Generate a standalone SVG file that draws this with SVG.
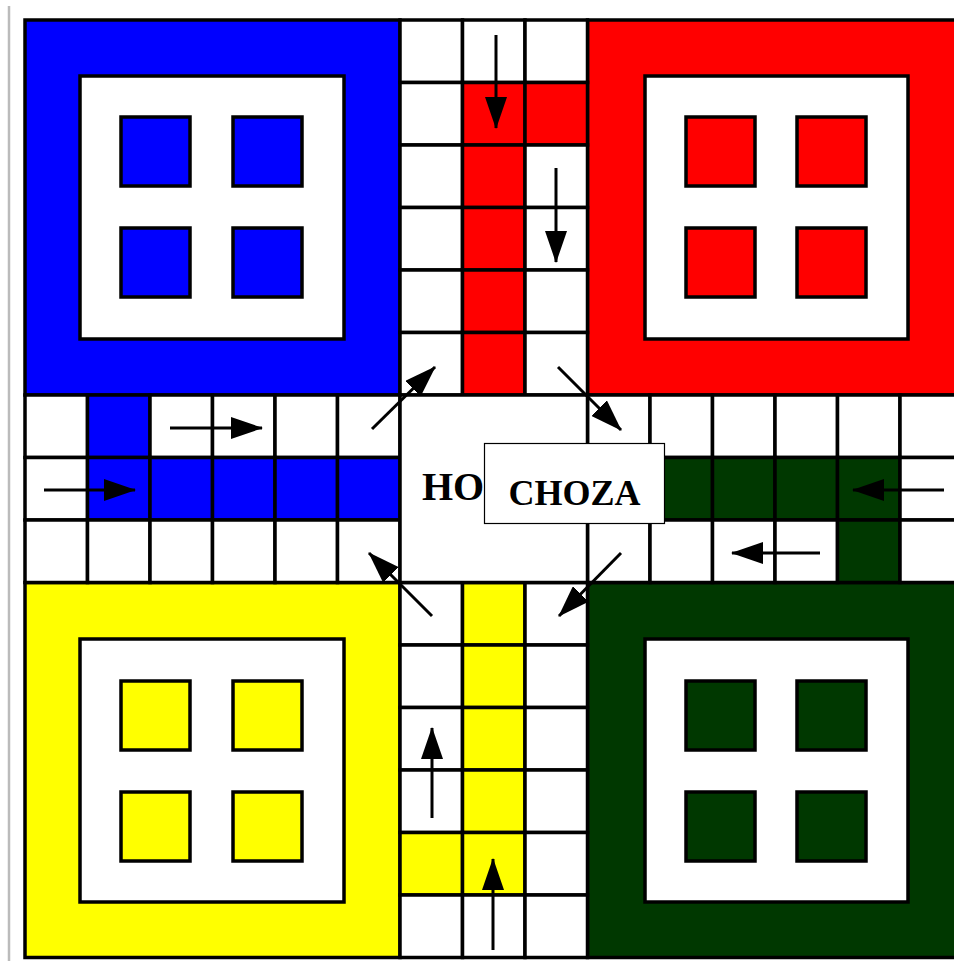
<svg xmlns="http://www.w3.org/2000/svg" width="954" height="961" viewBox="0 0 954 961">
<style>
.c{stroke:#000;stroke-width:3.5}
.w{fill:#fff}
.b{fill:#0000ff}
.r{fill:#ff0000}
.y{fill:#ffff00}
.g{fill:#003800}
.a{stroke:#000;stroke-width:3;fill:none;marker-end:url(#ah)}
.t{font-family:"Liberation Serif","Times New Roman",serif;font-weight:bold;font-size:36px;fill:#000}
</style>
<defs>
<marker id="ah" viewBox="0 0 32 22" refX="31" refY="11" markerWidth="32" markerHeight="22" markerUnits="userSpaceOnUse" orient="auto">
<path d="M0,0 L32,11 L0,22 Z" fill="#000"/>
</marker>
</defs>
<rect width="954" height="961" fill="#fff"/>
<line x1="9" y1="6" x2="9" y2="961" stroke="#bbbbbb" stroke-width="2.5"/>

<g id="blue-home">
<rect class="c b" x="25" y="20" width="375" height="375"/>
<rect class="c w" x="80" y="76" width="264" height="263"/>
<rect class="c b" x="121" y="117" width="69" height="69"/>
<rect class="c b" x="233" y="117" width="69" height="69"/>
<rect class="c b" x="121" y="228" width="69" height="69"/>
<rect class="c b" x="233" y="228" width="69" height="69"/>
</g>
<g id="red-home">
<rect class="c r" x="587.5" y="20" width="375" height="375"/>
<rect class="c w" x="645" y="76" width="263" height="263"/>
<rect class="c r" x="686" y="117" width="69" height="69"/>
<rect class="c r" x="797" y="117" width="69" height="69"/>
<rect class="c r" x="686" y="228" width="69" height="69"/>
<rect class="c r" x="797" y="228" width="69" height="69"/>
</g>
<g id="yellow-home">
<rect class="c y" x="25" y="582.5" width="375" height="375"/>
<rect class="c w" x="80" y="639" width="264" height="263"/>
<rect class="c y" x="121" y="681" width="69" height="69"/>
<rect class="c y" x="233" y="681" width="69" height="69"/>
<rect class="c y" x="121" y="792" width="69" height="69"/>
<rect class="c y" x="233" y="792" width="69" height="69"/>
</g>
<g id="green-home">
<rect class="c g" x="587.5" y="582.5" width="375" height="375"/>
<rect class="c w" x="645" y="639" width="263" height="263"/>
<rect class="c g" x="686" y="681" width="69" height="69"/>
<rect class="c g" x="797" y="681" width="69" height="69"/>
<rect class="c g" x="686" y="792" width="69" height="69"/>
<rect class="c g" x="797" y="792" width="69" height="69"/>
</g>

<g id="top-arm">
<rect class="c w" x="400" y="20" width="62.5" height="62.5"/>
<rect class="c w" x="462.5" y="20" width="62.5" height="62.5"/>
<rect class="c w" x="525" y="20" width="62.5" height="62.5"/>
<rect class="c w" x="400" y="82.5" width="62.5" height="62.5"/>
<rect class="c r" x="462.5" y="82.5" width="62.5" height="62.5"/>
<rect class="c r" x="525" y="82.5" width="62.5" height="62.5"/>
<rect class="c w" x="400" y="145" width="62.5" height="62.5"/>
<rect class="c r" x="462.5" y="145" width="62.5" height="62.5"/>
<rect class="c w" x="525" y="145" width="62.5" height="62.5"/>
<rect class="c w" x="400" y="207.5" width="62.5" height="62.5"/>
<rect class="c r" x="462.5" y="207.5" width="62.5" height="62.5"/>
<rect class="c w" x="525" y="207.5" width="62.5" height="62.5"/>
<rect class="c w" x="400" y="270" width="62.5" height="62.5"/>
<rect class="c r" x="462.5" y="270" width="62.5" height="62.5"/>
<rect class="c w" x="525" y="270" width="62.5" height="62.5"/>
<rect class="c w" x="400" y="332.5" width="62.5" height="62.5"/>
<rect class="c r" x="462.5" y="332.5" width="62.5" height="62.5"/>
<rect class="c w" x="525" y="332.5" width="62.5" height="62.5"/>
</g>

<g id="left-arm">
<rect class="c w" x="25" y="395" width="62.5" height="62.5"/>
<rect class="c b" x="87.5" y="395" width="62.5" height="62.5"/>
<rect class="c w" x="150" y="395" width="62.5" height="62.5"/>
<rect class="c w" x="212.5" y="395" width="62.5" height="62.5"/>
<rect class="c w" x="275" y="395" width="62.5" height="62.5"/>
<rect class="c w" x="337.5" y="395" width="62.5" height="62.5"/>
<rect class="c w" x="25" y="457.5" width="62.5" height="62.5"/>
<rect class="c b" x="87.5" y="457.5" width="62.5" height="62.5"/>
<rect class="c b" x="150" y="457.5" width="62.5" height="62.5"/>
<rect class="c b" x="212.5" y="457.5" width="62.5" height="62.5"/>
<rect class="c b" x="275" y="457.5" width="62.5" height="62.5"/>
<rect class="c b" x="337.5" y="457.5" width="62.5" height="62.5"/>
<rect class="c w" x="25" y="520" width="62.5" height="62.5"/>
<rect class="c w" x="87.5" y="520" width="62.5" height="62.5"/>
<rect class="c w" x="150" y="520" width="62.5" height="62.5"/>
<rect class="c w" x="212.5" y="520" width="62.5" height="62.5"/>
<rect class="c w" x="275" y="520" width="62.5" height="62.5"/>
<rect class="c w" x="337.5" y="520" width="62.5" height="62.5"/>
</g>

<g id="right-arm">
<rect class="c w" x="587.5" y="395" width="62.5" height="62.5"/>
<rect class="c w" x="650" y="395" width="62.5" height="62.5"/>
<rect class="c w" x="712.5" y="395" width="62.5" height="62.5"/>
<rect class="c w" x="775" y="395" width="62.5" height="62.5"/>
<rect class="c w" x="837.5" y="395" width="62.5" height="62.5"/>
<rect class="c w" x="900" y="395" width="62.5" height="62.5"/>
<rect class="c w" x="587.5" y="457.5" width="62.5" height="62.5"/>
<rect class="c g" x="650" y="457.5" width="62.5" height="62.5"/>
<rect class="c g" x="712.5" y="457.5" width="62.5" height="62.5"/>
<rect class="c g" x="775" y="457.5" width="62.5" height="62.5"/>
<rect class="c g" x="837.5" y="457.5" width="62.5" height="62.5"/>
<rect class="c w" x="900" y="457.5" width="62.5" height="62.5"/>
<rect class="c w" x="587.5" y="520" width="62.5" height="62.5"/>
<rect class="c w" x="650" y="520" width="62.5" height="62.5"/>
<rect class="c w" x="712.5" y="520" width="62.5" height="62.5"/>
<rect class="c w" x="775" y="520" width="62.5" height="62.5"/>
<rect class="c g" x="837.5" y="520" width="62.5" height="62.5"/>
<rect class="c w" x="900" y="520" width="62.5" height="62.5"/>
</g>

<g id="bottom-arm">
<rect class="c w" x="400" y="582.5" width="62.5" height="62.5"/>
<rect class="c y" x="462.5" y="582.5" width="62.5" height="62.5"/>
<rect class="c w" x="525" y="582.5" width="62.5" height="62.5"/>
<rect class="c w" x="400" y="645" width="62.5" height="62.5"/>
<rect class="c y" x="462.5" y="645" width="62.5" height="62.5"/>
<rect class="c w" x="525" y="645" width="62.5" height="62.5"/>
<rect class="c w" x="400" y="707.5" width="62.5" height="62.5"/>
<rect class="c y" x="462.5" y="707.5" width="62.5" height="62.5"/>
<rect class="c w" x="525" y="707.5" width="62.5" height="62.5"/>
<rect class="c w" x="400" y="770" width="62.5" height="62.5"/>
<rect class="c y" x="462.5" y="770" width="62.5" height="62.5"/>
<rect class="c w" x="525" y="770" width="62.5" height="62.5"/>
<rect class="c y" x="400" y="832.5" width="62.5" height="62.5"/>
<rect class="c y" x="462.5" y="832.5" width="62.5" height="62.5"/>
<rect class="c w" x="525" y="832.5" width="62.5" height="62.5"/>
<rect class="c w" x="400" y="895" width="62.5" height="62.5"/>
<rect class="c w" x="462.5" y="895" width="62.5" height="62.5"/>
<rect class="c w" x="525" y="895" width="62.5" height="62.5"/>
</g>

<g id="center">
<rect class="c w" x="400" y="395" width="187.5" height="187.5"/>
<text class="t" x="422" y="500" style="font-size:40px">HO</text>
</g>

<g id="connectors">
<line class="a" x1="496" y1="35" x2="496" y2="128"/>
<line class="a" x1="556" y1="168" x2="556" y2="262"/>
<line class="a" x1="170" y1="428" x2="262" y2="428"/>
<line class="a" x1="44" y1="490" x2="135" y2="490"/>
<line class="a" x1="372" y1="429" x2="435" y2="367"/>
<line class="a" x1="558" y1="367" x2="621" y2="430"/>
<line class="a" x1="944" y1="490" x2="853" y2="490"/>
<line class="a" x1="820" y1="553" x2="732" y2="553"/>
<line class="a" x1="621" y1="553" x2="559" y2="616"/>
<line class="a" x1="432" y1="616" x2="369" y2="553"/>
<line class="a" x1="432" y1="818" x2="432" y2="728"/>
<line class="a" x1="493" y1="950" x2="493" y2="859"/>
</g>

<g id="choza">
<rect x="484.5" y="443.5" width="180" height="80" fill="#fff" stroke="#000" stroke-width="1.2"/>
<text class="t" x="574.5" y="505" text-anchor="middle">CHOZA</text>
</g>
</svg>
